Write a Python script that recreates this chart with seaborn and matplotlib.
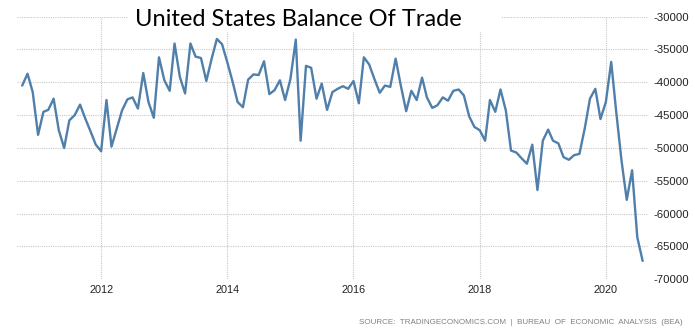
import matplotlib
matplotlib.use("Agg")
import matplotlib.pyplot as plt
import matplotlib.dates as mdates
from matplotlib.patches import Rectangle
from matplotlib.ticker import FuncFormatter
import seaborn as sns
import pandas as pd

start_month = "2010-10-01"
end_month = "2020-08-01"
balance = [
    -40500, -38700, -41500,
    -48000, -44500, -44200, -42500, -47300, -50000, -45800, -45000, -43400, -45500, -47500, -49500,
    -50500, -42700, -49800, -47000, -44300, -42600, -42300, -44000, -38600, -43000, -45400, -36200,
    -39700, -41300, -34100, -39200, -41700, -34100, -36100, -36300, -39800, -36500, -33400, -34200,
    -37000, -40000, -43000, -43800, -39600, -38800, -38900, -36800, -41800, -41200, -39700, -42700,
    -39500, -33500, -48900, -37500, -37800, -42500, -40200, -44200, -41500, -41000, -40600, -41000,
    -39800, -43200, -36200, -37300, -39500, -41600, -40500, -40700, -36400, -40500, -44400, -41300,
    -42700, -39300, -42300, -43900, -43500, -42300, -42800, -41300, -41100, -42000, -45200, -46800,
    -47300, -48900, -42700, -44500, -41100, -44300, -50400, -50700, -51600, -52400, -49500, -56400,
    -48900, -47200, -48900, -49300, -51400, -51800, -51100, -50900, -47000, -42500, -41000, -45600,
    -43000, -36900, -44500, -52000, -57900, -53400, -63600, -67200,
]
year_ticks = [2012, 2014, 2016, 2018, 2020]
y_ticks = [-30000, -35000, -40000, -45000, -50000, -55000, -60000, -65000, -70000]
title = "United States Balance Of Trade"
source = "SOURCE:  TRADINGECONOMICS.COM  |  BUREAU  OF  ECONOMIC  ANALYSIS  (BEA)"

df = pd.DataFrame({
    "date": pd.date_range(start_month, end_month, freq="MS"),
    "value": balance,
})

sns.set_theme(style="white")
plt.rcParams["font.family"] = ["Liberation Sans", "DejaVu Sans"]

fig = plt.figure(figsize=(6.95, 3.35), dpi=100)
W, H = 695, 335
ax = fig.add_axes([17 / W, 1 - 279.3 / H, (648 - 17) / W, (279.3 - 16.6) / H])

sns.lineplot(data=df, x="date", y="value", ax=ax, color="#4f7faa", linewidth=1.7)

ax.set_ylim(min(y_ticks), max(y_ticks))
ax.set_xlim(pd.Timestamp("2010-09-01"), pd.Timestamp("2020-09-01"))
ax.set_yticks(y_ticks)
ax.set_xticks([pd.Timestamp(f"{y}-01-01") for y in year_ticks])
ax.xaxis.set_major_formatter(mdates.DateFormatter("%Y"))
ax.yaxis.set_major_formatter(FuncFormatter(lambda v, p: f"{int(v)}"))
ax.yaxis.tick_right()
ax.tick_params(axis="y", length=0, pad=4, labelsize=8.2, labelcolor="#222222")
ax.tick_params(axis="x", length=0, pad=4, labelsize=7.8, labelcolor="#222222")
ax.set_xlabel("")
ax.set_ylabel("")
for s in ax.spines.values():
    s.set_visible(False)
ax.grid(True, axis="both", linestyle=(0, (1, 1)), color="#c8c8c8", linewidth=0.8)
ax.set_axisbelow(True)

fig.patches.append(Rectangle((128 / W, 1 - 32 / H), 374 / W, 32 / H,
                             transform=fig.transFigure, facecolor="white",
                             edgecolor="none", zorder=2))
fig.text(298 / W, 1 - 26 / H, title, ha="center", va="baseline",
         fontsize=17, color="black", family=["Lato", "DejaVu Sans"], zorder=3)
fig.text(683 / W, 1 - 322 / H, source, ha="right", va="center",
         fontsize=5.8, color="#808080", zorder=3)

fig.savefig("out.png", dpi=100)
